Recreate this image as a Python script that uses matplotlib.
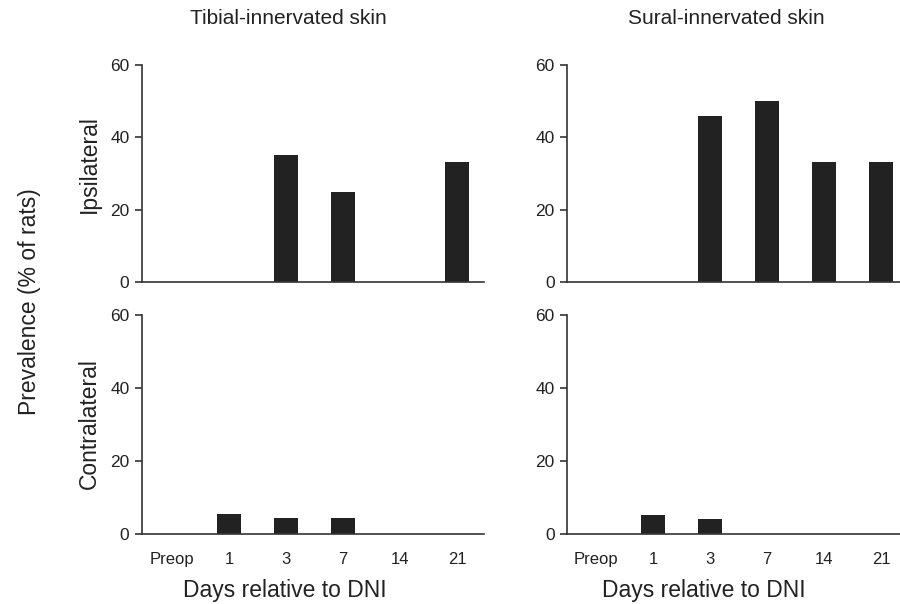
import matplotlib
matplotlib.use("Agg")
import matplotlib.pyplot as plt
import numpy as np

plt.rcParams['font.family'] = ['Liberation Sans', 'DejaVu Sans']

categories = ["Preop", "1", "3", "7", "14", "21"]
tibial_ipsi = [0, 0, 35, 25, 0, 33.3]
tibial_contra = [0, 5.5, 4.3, 4.3, 0, 0]
sural_ipsi = [0, 0, 46, 50, 33.3, 33.3]
sural_contra = [0, 5.3, 4.1, 0, 0, 0]
col_titles = ["Tibial-innervated skin", "Sural-innervated skin"]
row_labels = ["Ipsilateral", "Contralateral"]
yticks = [0, 20, 40, 60]
xlabel = "Days relative to DNI"
ylabel = "Prevalence (% of rats)"

fig = plt.figure(figsize=(9, 6.04), dpi=100)
W, H = 900, 604
TXT = '#222222'

def ax_rect(x0, x1, ytop, ybot):
    return [x0 / W, 1 - ybot / H, (x1 - x0) / W, (ybot - ytop) / H]

rects = {
    (0, 0): ax_rect(142, 484, 65, 282),
    (1, 0): ax_rect(142, 484, 315, 534),
    (0, 1): ax_rect(567, 900, 65, 282),
    (1, 1): ax_rect(567, 900, 315, 534),
}
xlims = {0: (-0.53, 5.47), 1: (-0.51, 5.33)}
data = {(0, 0): tibial_ipsi, (1, 0): tibial_contra,
        (0, 1): sural_ipsi, (1, 1): sural_contra}

x = np.arange(len(categories))
spine_c = '#333333'
for (r, c), rect in rects.items():
    ax = fig.add_axes(rect)
    ax.bar(x, data[(r, c)], width=0.42, color='#222222', edgecolor='none')
    ax.set_xlim(*xlims[c])
    ax.set_ylim(0, 60)
    ax.set_yticks(yticks)
    ax.spines['top'].set_visible(False)
    ax.spines['right'].set_visible(False)
    for s in ['left', 'bottom']:
        ax.spines[s].set_color(spine_c)
        ax.spines[s].set_linewidth(1.2)
    ax.tick_params(axis='y', direction='out', length=5, width=1.2, color=spine_c,
                   labelsize=12.5, labelcolor=TXT, pad=4)
    ax.set_xticks(x)
    if r == 1:
        ax.set_xticklabels(categories)
        ax.tick_params(axis='x', length=0, labelsize=12, labelcolor=TXT, pad=13)
    else:
        ax.set_xticklabels([])
        ax.tick_params(axis='x', length=0)
    ax.patch.set_alpha(0)

# column titles and x labels
for cx, title in zip([190, 628], col_titles):
    fig.text(cx / W, 1 - 19 / H, title, ha='left', va='center', fontsize=15, color=TXT)
for cx in [183, 602]:
    fig.text(cx / W, 1 - 590 / H, xlabel, ha='left', va='center', fontsize=16.5, color=TXT)

fig.text(89 / W, 1 - 164 / H, row_labels[0], rotation=90, ha='center', va='center',
         fontsize=16.5, color=TXT)
fig.text(89 / W, 1 - 424 / H, row_labels[1], rotation=90, ha='center', va='center',
         fontsize=16.5, color=TXT)
fig.text(30 / W, 1 - 302 / H, ylabel, rotation=90, ha='center',
         va='center', fontsize=16.5, color=TXT)

fig.savefig("out.png", dpi=100)
